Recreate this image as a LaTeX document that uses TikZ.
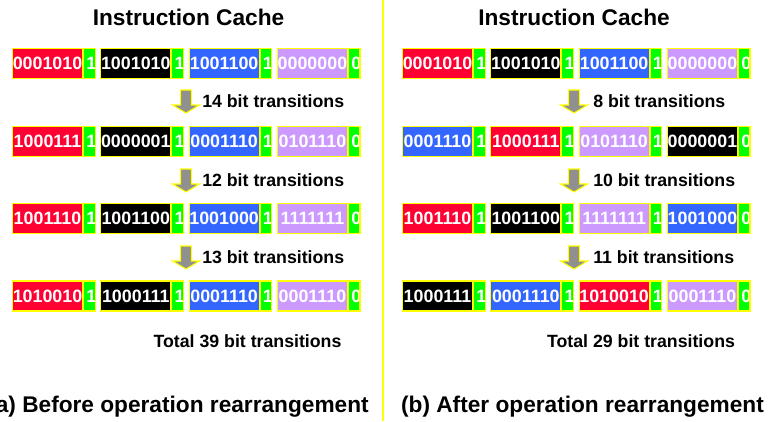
\documentclass[tikz,border=0pt]{standalone}
\usepackage{fontspec}
\setmainfont{Liberation Sans}
\definecolor{ylw}{HTML}{FFFF00}
\definecolor{grn}{HTML}{00FF00}
\definecolor{cred}{HTML}{FF0033}
\definecolor{cblack}{HTML}{000000}
\definecolor{cblue}{HTML}{3366FF}
\definecolor{cpurple}{HTML}{CC99FF}
\definecolor{arrowgray}{HTML}{909090}
\newcommand\digitfont{\fontsize{13.4}{14}\selectfont\bfseries}
\newcommand\titlefont{\fontsize{17}{19}\selectfont\bfseries}
\newcommand\transfont{\fontsize{13.3}{15}\selectfont\bfseries}
\newcommand\wordbox[6]{%
  \node[cell,fill=#4] (#1) at (#2,#3) {#5};
  \node[bitcell=#6] (#1g) at (#1.east) {};
}
\newcommand\cacherow[4]{%
  \foreach \c/\b/\g [count=\i from 0] in {#4} {
    \wordbox{#1\i}{#2+\i*88.3}{#3}{\c}{\b}{\g}
  }
}
\newcommand\grayarrow[3]{%
  \coordinate (#1) at (#2,#3);
  \filldraw[arrowshape] ([shift={(-5.5,0)}]#1) -- ([shift={(5.5,0)}]#1) -- ([shift={(5.5,15)}]#1)
    -- ([shift={(13.5,15)}]#1) -- ([shift={(0,23)}]#1) -- ([shift={(-13.5,15)}]#1)
    -- ([shift={(-5.5,15)}]#1) -- cycle;
}
\begin{document}
\begin{tikzpicture}[x=0.75pt,y=-0.75pt,
  cell/.style={draw=ylw,line width=0.8pt,minimum width=52.5pt,minimum height=22.5pt,
    inner sep=0pt,text=white,font=\digitfont,anchor=west},
  bitcell/.style={draw=ylw,fill=grn,line width=0.8pt,minimum width=8.6pt,minimum height=22.5pt,
    inner sep=0pt,anchor=west,
    path picture={\node[anchor=west,inner sep=0pt,text=white,font=\digitfont]
      at ([xshift=1.1pt]path picture bounding box.west) {#1};}},
  titletext/.style={font=\titlefont,anchor=base,inner sep=0pt},
  transtext/.style={font=\transfont,anchor=base west,inner sep=0pt},
  totaltext/.style={font=\transfont,anchor=base,inner sep=0pt},
  arrowshape/.style={fill=arrowgray,draw=ylw,line width=0.8pt,line join=miter}]
\useasboundingbox (0,0) rectangle (770,421);

% divider
\draw[ylw,line width=1.5pt] (383,0) coordinate (dtop) -- (383,421) coordinate (dbot);

% ---------- left panel ----------
\node[titletext] (lt) at (188.5,25) {Instruction Cache};
\cacherow{la}{12}{63.5}{cred/0001010/1,cblack/1001010/1,cblue/1001100/1,cpurple/0000000/0}
\cacherow{lb}{12}{141.5}{cred/1000111/1,cblack/0000001/1,cblue/0001110/1,cpurple/0101110/0}
\cacherow{lc}{12}{218.5}{cred/1001110/1,cblack/1001100/1,cblue/1001000/1,cpurple/1111111/0}
\cacherow{ld}{12}{296}{cred/1010010/1,cblack/1000111/1,cblue/0001110/1,cpurple/0001110/0}
\grayarrow{lar1}{186}{90}
\grayarrow{lar2}{186}{169}
\grayarrow{lar3}{186}{246}
\node[transtext] (ltr1) at (202,107) {14 bit transitions};
\node[transtext] (ltr2) at (202,186) {12 bit transitions};
\node[transtext] (ltr3) at (202,263) {13 bit transitions};
\node[totaltext] (ltot) at (247.5,347) {Total 39 bit transitions};
\node[titletext] (lcap) at (178.5,412) {(a) Before operation rearrangement};

% ---------- right panel ----------
\node[titletext] (rt) at (574,25) {Instruction Cache};
\cacherow{ra}{402}{63.5}{cred/0001010/1,cblack/1001010/1,cblue/1001100/1,cpurple/0000000/0}
\cacherow{rb}{402}{141.5}{cblue/0001110/1,cred/1000111/1,cpurple/0101110/1,cblack/0000001/0}
\cacherow{rc}{402}{218.5}{cred/1001110/1,cblack/1001100/1,cpurple/1111111/1,cblue/1001000/0}
\cacherow{rd}{402}{296}{cblack/1000111/1,cblue/0001110/1,cred/1010010/1,cpurple/0001110/0}
\grayarrow{rar1}{574}{90}
\grayarrow{rar2}{574}{169}
\grayarrow{rar3}{574}{246}
\node[transtext] (rtr1) at (593,107) {8 bit transitions};
\node[transtext] (rtr2) at (593,186) {10 bit transitions};
\node[transtext] (rtr3) at (593,263) {11 bit transitions};
\node[totaltext] (rtot) at (641,347) {Total 29 bit transitions};
\node[titletext] (rcap) at (582.5,412) {(b) After operation rearrangement};
\end{tikzpicture}
\end{document}
